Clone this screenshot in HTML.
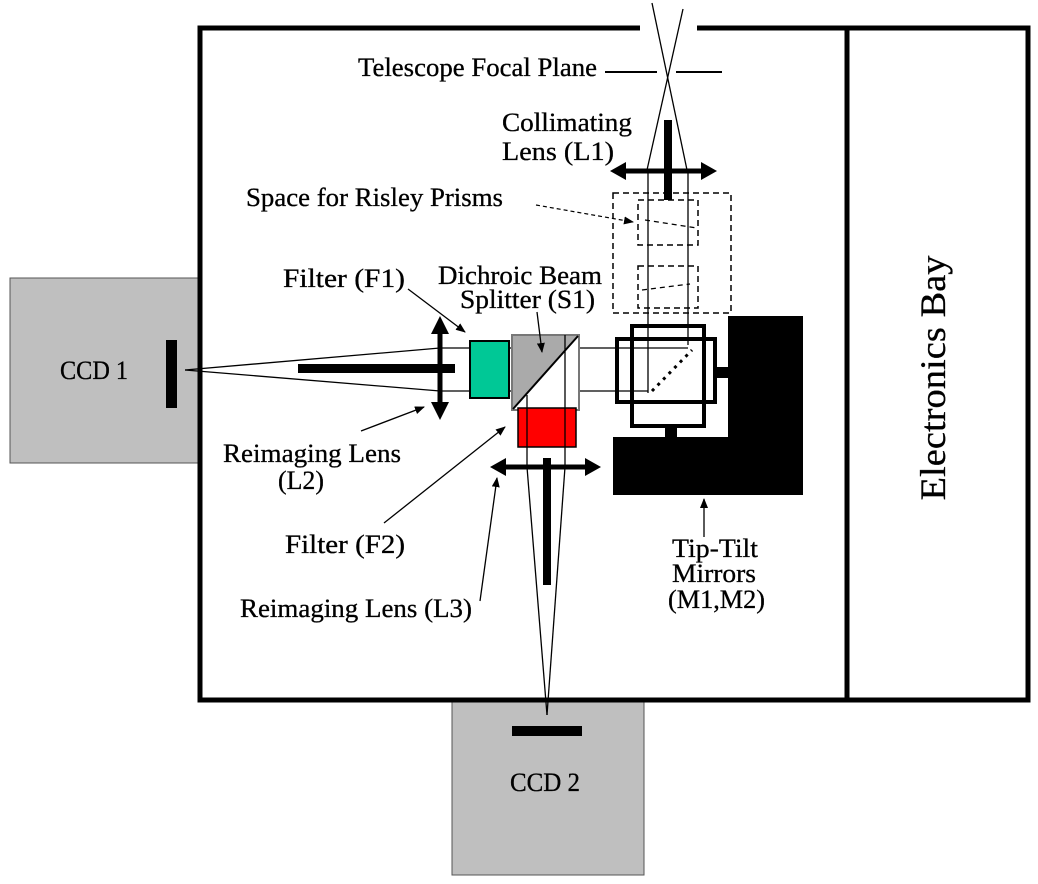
<!DOCTYPE html>
<html><head><meta charset="utf-8"><style>html,body{margin:0;padding:0;background:#fff}svg{display:block}text{font-family:"Liberation Serif",serif;font-size:26px;fill:#000;stroke:#000;stroke-width:0.3}</style></head>
<body>
<svg width="1038" height="884" viewBox="0 0 1038 884" xmlns="http://www.w3.org/2000/svg">
<defs>
<marker id="a" markerWidth="10" markerHeight="8" refX="9" refY="4" orient="auto" markerUnits="userSpaceOnUse"><path d="M0,0 L10,4 L0,8 z"/></marker>
</defs>
<rect x="10" y="278" width="190" height="185" fill="#bfbfbf" stroke="#555" stroke-width="1"/>
<text x="60" y="379" textLength="68" lengthAdjust="spacingAndGlyphs">CCD 1</text>
<rect x="452" y="700" width="192" height="175" fill="#bfbfbf" stroke="#555" stroke-width="1"/>
<text x="510" y="791" textLength="70" lengthAdjust="spacingAndGlyphs">CCD 2</text>
<path d="M640,28 H200 V700 H1028 V28 H697" fill="none" stroke="#000" stroke-width="5"/>
<line x1="847" y1="28" x2="847" y2="700" stroke="#000" stroke-width="5"/>
<text transform="translate(945,378) rotate(-90)" text-anchor="middle" style="font-size:36px" textLength="245" lengthAdjust="spacingAndGlyphs">Electronics Bay</text>
<text x="358" y="76" textLength="239" lengthAdjust="spacingAndGlyphs">Telescope Focal Plane</text>
<line x1="605" y1="72" x2="657" y2="72" stroke="#000" stroke-width="2"/>
<line x1="676" y1="72" x2="722" y2="72" stroke="#000" stroke-width="2"/>
<line x1="652" y1="3" x2="687" y2="170" stroke="#000" stroke-width="1.3"/>
<line x1="683" y1="9" x2="647" y2="170" stroke="#000" stroke-width="1.3"/>
<line x1="648" y1="170" x2="648" y2="393" stroke="#000" stroke-width="1.3"/>
<line x1="688" y1="170" x2="688" y2="345" stroke="#000" stroke-width="1.3"/>
<text x="502" y="131" textLength="130" lengthAdjust="spacingAndGlyphs">Collimating</text>
<text x="502" y="160" textLength="112" lengthAdjust="spacingAndGlyphs">Lens (L1)</text>
<rect x="664" y="120" width="8" height="80"/>
<line x1="622" y1="171" x2="704" y2="171" stroke="#000" stroke-width="5"/>
<path d="M610,171 L626,162 L626,180 z M717,171 L701,162 L701,180 z"/>
<text x="246" y="206" textLength="257" lengthAdjust="spacingAndGlyphs">Space for Risley Prisms</text>
<line x1="536" y1="205" x2="633" y2="222" stroke="#000" stroke-width="1.2" stroke-dasharray="4,3" marker-end="url(#a)"/>
<rect x="613" y="193" width="118" height="120" fill="none" stroke="#000" stroke-width="1.5" stroke-dasharray="6,4"/>
<rect x="638" y="200" width="60" height="45" fill="none" stroke="#000" stroke-width="1.5" stroke-dasharray="6,4"/>
<rect x="638" y="266" width="60" height="42" fill="none" stroke="#000" stroke-width="1.5" stroke-dasharray="6,4"/>
<line x1="645" y1="220" x2="697" y2="228" stroke="#000" stroke-width="1.3" stroke-dasharray="5,4"/>
<line x1="642" y1="290" x2="690" y2="284" stroke="#000" stroke-width="1.3" stroke-dasharray="5,4"/>
<line x1="440" y1="348" x2="688" y2="348" stroke="#000" stroke-width="1.3"/>
<line x1="440" y1="391" x2="648" y2="391" stroke="#000" stroke-width="1.3"/>
<line x1="440" y1="348" x2="185" y2="370" stroke="#000" stroke-width="1.3"/>
<line x1="440" y1="391" x2="185" y2="370" stroke="#000" stroke-width="1.3"/>
<rect x="166" y="340" width="11" height="68"/>
<rect x="298" y="364" width="157" height="9"/>
<line x1="440" y1="330" x2="440" y2="405" stroke="#000" stroke-width="5"/>
<path d="M440,316 L431,334 L449,334 z M440,420 L431,402 L449,402 z"/>
<rect x="470" y="341" width="39" height="57" fill="#00c896" stroke="#000" stroke-width="2"/>
<rect x="512" y="335" width="67" height="75" fill="#fff" stroke="#777" stroke-width="2"/>
<path d="M513,336 L577,336 L513,409 z" fill="#aaa"/>
<line x1="513" y1="409" x2="578" y2="336" stroke="#000" stroke-width="2"/>
<rect x="518" y="408" width="58" height="39" fill="#ff0000" stroke="#000" stroke-width="1.5"/>
<line x1="527" y1="395" x2="527" y2="467" stroke="#000" stroke-width="1.3"/>
<line x1="565" y1="335" x2="565" y2="467" stroke="#000" stroke-width="1.3"/>
<line x1="527" y1="467" x2="547" y2="715" stroke="#000" stroke-width="1.3"/>
<line x1="565" y1="467" x2="547" y2="715" stroke="#000" stroke-width="1.3"/>
<rect x="543" y="458" width="8" height="127"/>
<line x1="503" y1="467" x2="588" y2="467" stroke="#000" stroke-width="5"/>
<path d="M490,467 L506,458 L506,476 z M601,467 L585,458 L585,476 z"/>
<rect x="512" y="726" width="70" height="10"/>
<rect x="617" y="339" width="98" height="63" fill="none" stroke="#000" stroke-width="4"/>
<rect x="632" y="326" width="72" height="100" fill="none" stroke="#000" stroke-width="4"/>
<line x1="652" y1="391" x2="692" y2="350" stroke="#000" stroke-width="3" stroke-dasharray="3,5"/>
<path d="M728,316 H803 V495 H613 V437 H728 z"/>
<rect x="715" y="367" width="14" height="11"/>
<rect x="665" y="424" width="12" height="14"/>
<text x="283" y="287" textLength="122" lengthAdjust="spacingAndGlyphs">Filter (F1)</text>
<line x1="408" y1="289" x2="465" y2="332" stroke="#000" stroke-width="1.3" marker-end="url(#a)"/>
<text x="438" y="284" textLength="164" lengthAdjust="spacingAndGlyphs">Dichroic Beam</text>
<text x="460" y="308" textLength="135" lengthAdjust="spacingAndGlyphs">Splitter (S1)</text>
<line x1="537" y1="312" x2="542" y2="352" stroke="#000" stroke-width="1.3" marker-end="url(#a)"/>
<text x="223" y="462" textLength="178" lengthAdjust="spacingAndGlyphs">Reimaging Lens</text>
<text x="278" y="489" textLength="46" lengthAdjust="spacingAndGlyphs">(L2)</text>
<line x1="361" y1="431" x2="424" y2="407" stroke="#000" stroke-width="1.3" marker-end="url(#a)"/>
<text x="285" y="553" textLength="120" lengthAdjust="spacingAndGlyphs">Filter (F2)</text>
<line x1="384" y1="523" x2="505" y2="427" stroke="#000" stroke-width="1.3" marker-end="url(#a)"/>
<text x="240" y="617" textLength="232" lengthAdjust="spacingAndGlyphs">Reimaging Lens (L3)</text>
<line x1="480" y1="601" x2="497" y2="478" stroke="#000" stroke-width="1.3" marker-end="url(#a)"/>
<text x="672" y="557" textLength="86" lengthAdjust="spacingAndGlyphs">Tip-Tilt</text>
<text x="672" y="582" textLength="84" lengthAdjust="spacingAndGlyphs">Mirrors</text>
<text x="668" y="608" textLength="97" lengthAdjust="spacingAndGlyphs">(M1,M2)</text>
<line x1="704" y1="537" x2="704" y2="499" stroke="#000" stroke-width="1.3" marker-end="url(#a)"/>
</svg>
</body></html>
